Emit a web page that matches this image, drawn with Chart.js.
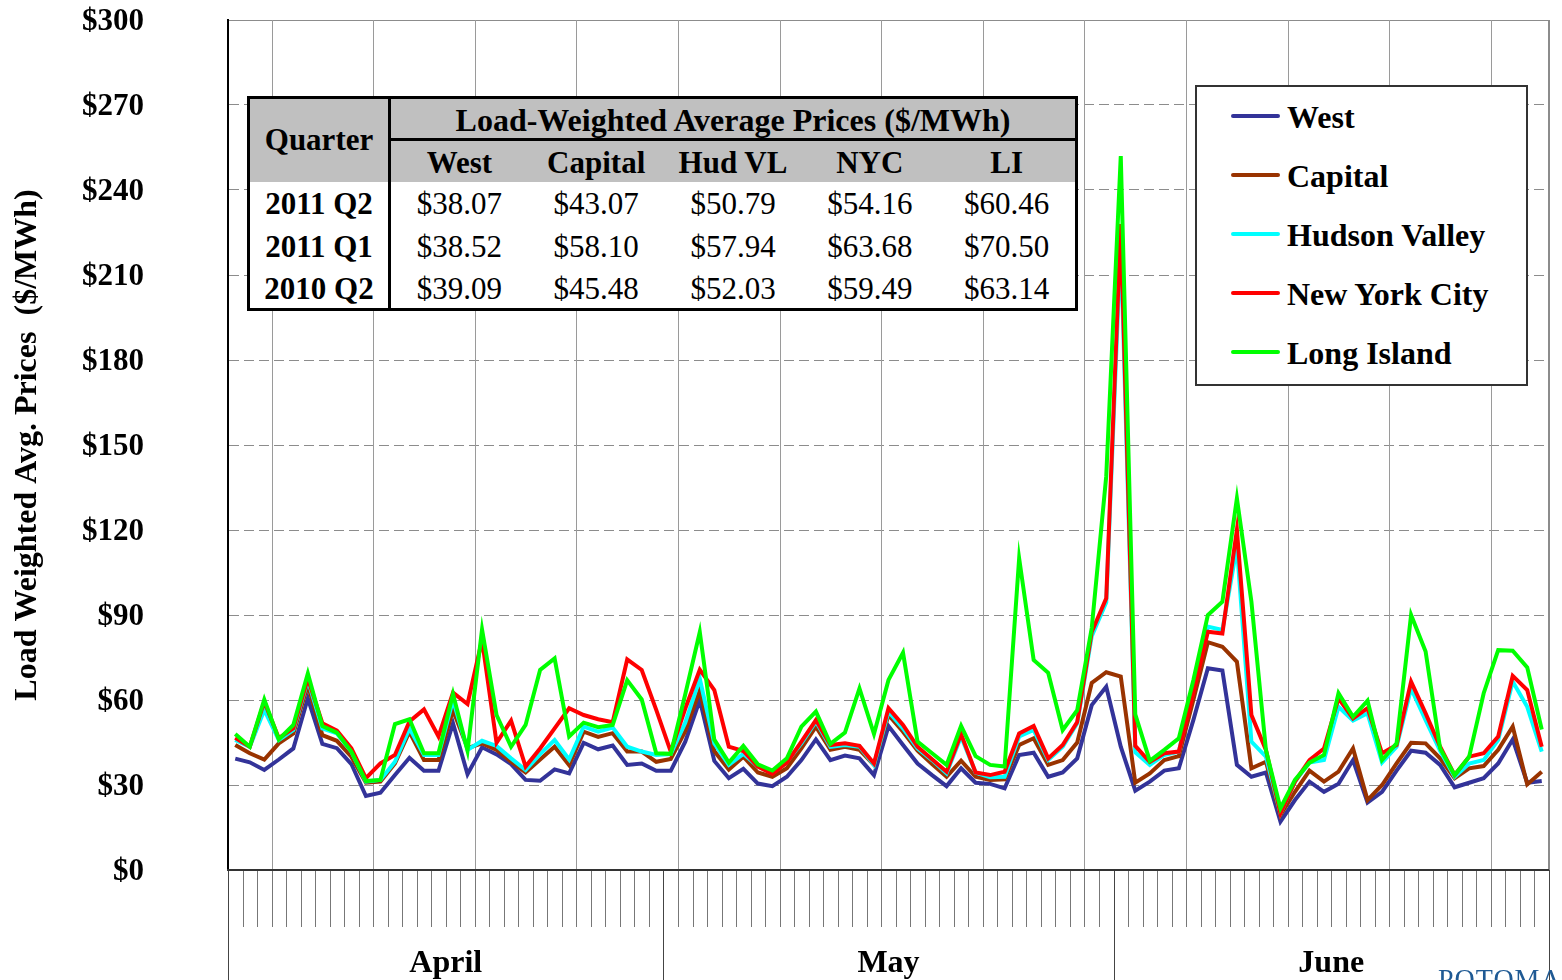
<!DOCTYPE html>
<html>
<head>
<meta charset="utf-8">
<title>Load Weighted Average Prices</title>
<script src="https://cdn.jsdelivr.net/npm/chart.js@4.4.1/dist/chart.umd.min.js"></script>
<style>
  html, body { margin: 0; padding: 0; background: #fff; overflow: hidden; }
  #wrap {
    position: relative; width: 1562px; height: 980px; overflow: hidden;
    font-family: "Liberation Serif", "Times New Roman", serif; color: #000;
  }
  #chart { position: absolute; left: 0; top: 0; }
  .box { position: absolute; box-sizing: border-box; background: #fff; }
  .fill { position: absolute; }
  .txt { position: absolute; white-space: nowrap; height: 40px; line-height: 40px; font-size: 31px; }
  .mid { transform: translateX(-50%); }
  .bold { font-weight: bold; }
  #logo {
    position: absolute; left: 1438px; top: 965px; font-size: 28px; line-height: 28px;
    color: #1f5a94; letter-spacing: 1px; white-space: nowrap;
  }
</style>
</head>
<body>
<div id="wrap">
  <canvas id="chart" width="1562" height="980"></canvas>
  <div id="summary"></div>
  <div id="legend"></div>
  <div id="logo">POTOMAC</div>
</div>
<script>
// Daily load-weighted average prices by zone, $/MWh (April 1 - June 30)
const westPrices = [
  39.3, 38, 35.3, 39, 42.9, 60.6, 44.5, 43, 37.4, 26.1,
  27.3, 33.5, 39.6, 35, 35, 51.8, 33.8, 43.3, 40.8, 37.4,
  31.8, 31.5, 35.5, 34.1, 44.9, 42.6, 43.9, 37.1, 37.6, 35,
  35, 45.3, 60, 38.5, 32.4, 35.7, 30.5, 29.6, 32.9, 38.8,
  46.1, 38.8, 40.4, 39.4, 33.5, 50.8, 44.1, 37.6, 33.5, 29.6,
  35.9, 30.8, 30.4, 28.8, 40.6, 41.4, 32.9, 34.4, 39.4, 58.2,
  64.7, 43.5, 28, 31.2, 35.1, 35.9, 52.9, 71.2, 70.4, 37.1,
  32.9, 34.4, 17.1, 24.7, 31.2, 27.6, 30.4, 38.8, 23.8, 27.6,
  35.1, 42.1, 41.4, 37.1, 29.2, 30.8, 32.4, 37.6, 46.1, 30.8,
  31.4
];
const capitalPrices = [
  44.1, 41.2, 39, 44.7, 48.2, 65.3, 47.6, 45.6, 40, 30.8,
  31.2, 37.6, 48.8, 38.8, 38.8, 56.5, 43, 44.7, 42.4, 38.2,
  34.4, 39, 43.5, 37, 48.8, 47, 48.3, 41.8, 41.8, 38.2,
  39.2, 49, 63.4, 42, 35.4, 40, 34.4, 32.9, 35.9, 42.9,
  50.6, 42.4, 43.5, 42.4, 37.1, 54.7, 48.8, 42.1, 37.4, 32.9,
  38.6, 32.9, 31.8, 32, 44.1, 46.5, 37.1, 38.8, 45, 66,
  69.8, 68.3, 30.8, 34.1, 38.8, 40.2, 60, 80.4, 78.8, 73.5,
  35.9, 38.2, 19.4, 27.6, 35.1, 31.2, 34.7, 42.9, 24.7, 30,
  37.6, 44.9, 44.7, 39.4, 32.4, 35.9, 36.7, 42.4, 50.6, 30.2,
  34.7
];
const hudsonValleyPrices = [
  45.9, 43.5, 56.5, 45.9, 49.4, 67, 50, 48.2, 41.8, 31.2,
  31.8, 38.2, 50, 40.6, 40.6, 60, 42.4, 45.6, 43.8, 39.4,
  35.3, 40.9, 45.9, 39, 50.6, 48.8, 50.3, 43.5, 41.8, 40.6,
  40.9, 52, 67.5, 44.7, 37.1, 41, 36.5, 34.4, 38.2, 44.7,
  52.4, 43.5, 44.1, 43.5, 37.1, 55.9, 50, 42.9, 38.8, 34.1,
  47.1, 34.4, 32.7, 32.9, 47.1, 49.4, 38.8, 43.5, 51.8, 82.5,
  94.5, 222, 41.5, 37.1, 40.6, 41.8, 64.7, 85.9, 84.7, 114,
  45.3, 40, 20, 31.2, 37.9, 38.8, 57.6, 52.7, 55.3, 37.9,
  43.5, 64.1, 52.9, 42.1, 32.9, 37.6, 38.8, 45.9, 66.5, 57.6,
  41.8
];
const nycPrices = [
  46.7, 43.5, 59.4, 46.5, 50, 67.6, 51.8, 49.2, 42.9, 32.4,
  37.6, 40.6, 52.4, 56.7, 47.1, 62.6, 58.6, 81.2, 44.9, 52.7,
  36.5, 42.9, 50, 57.1, 54.7, 53.2, 52.2, 74.3, 70.6, 56.5,
  41.8, 57, 70.7, 63.5, 43.5, 42, 36.5, 33.9, 37.9, 45.3,
  52.9, 44.1, 44.7, 43.8, 37.6, 57.1, 51.2, 43.5, 39.1, 34.7,
  48, 34.4, 33.5, 34.7, 48.2, 50.8, 39.4, 44.1, 52.2, 84,
  95.9, 228, 43.8, 38.1, 41.2, 41.8, 62.4, 84.1, 83.5, 120,
  54.7, 42.4, 20, 31.2, 38.8, 42.9, 60.6, 53.5, 57.1, 41.2,
  44.1, 66.5, 55.3, 43.5, 33.5, 40, 41.2, 47.1, 68.5, 63.5,
  43.5
];
const longIslandPrices = [
  48, 43.5, 60.2, 46.1, 51.2, 69.4, 50.8, 48.5, 41.8, 31.4,
  31.8, 51.5, 53.2, 41.2, 41.2, 62.1, 42.1, 84.9, 54.7, 43.5,
  51.2, 70.6, 74.7, 47.1, 52, 50.4, 51.2, 67, 60.2, 41.2,
  41, 62, 84, 46, 37.9, 43.8, 37.3, 35.1, 39.4, 50.6,
  55.9, 44.5, 48.5, 64.1, 48, 67.1, 76.7, 45.3, 41.2, 37.1,
  50.9, 40.2, 37.1, 36.5, 110, 74.1, 69.6, 49.4, 56.4, 85.4,
  139, 252, 54.9, 38.5, 42.4, 46.5, 67, 90, 94.7, 131.2,
  94.7, 42.4, 21.8, 31.8, 37.9, 40.6, 62.4, 54.1, 59.8, 38.8,
  44.7, 90, 77.1, 42.9, 33.5, 40, 62.4, 77.6, 77.4, 71.5,
  49.6
];

const regionNames = ["West", "Capital", "Hudson Valley", "New York City", "Long Island"];
const regionColors = ["#333399", "#993300", "#00ffff", "#ff0000", "#00ff00"];
const regionSeries = [westPrices, capitalPrices, hudsonValleyPrices, nycPrices, longIslandPrices];

// Quarterly summary shown in the inset table
const quarterLabels = ["2011 Q2", "2011 Q1", "2010 Q2"];
const summaryColumns = ["West", "Capital", "Hud VL", "NYC", "LI"];
const summaryWest = [38.07, 38.52, 39.09];
const summaryCapital = [43.07, 58.10, 45.48];
const summaryHudVL = [50.79, 57.94, 52.03];
const summaryNYC = [54.16, 63.68, 59.49];
const summaryLI = [60.46, 70.50, 63.14];
const summarySeries = [summaryWest, summaryCapital, summaryHudVL, summaryNYC, summaryLI];

const yMax = 300;
const yStep = 30;

// One category per calendar day of the quarter
const days = [];
for (let i = 0; i < westPrices.length; i++) days.push(new Date(2011, 3, 1 + i));
const dayLabels = days.map((d) => `${d.getMonth() + 1}/${d.getDate()}`);
const monthNames = ["January", "February", "March", "April", "May", "June",
  "July", "August", "September", "October", "November", "December"];

const serif = "'Liberation Serif', 'Times New Roman', serif";

/**
 * Draws the weekly vertical grid, the day ticks under the axis,
 * month separators and month names.
 */
const dayAxisPlugin = {
  id: "dayAxis",
  beforeDatasetsDraw(chart) {
    const { ctx, chartArea: area, scales: { x } } = chart;
    ctx.save();
    ctx.lineWidth = 1;
    ctx.strokeStyle = "#9a9a9a";
    days.forEach((d, i) => {
      if (d.getDay() !== 1) return; // line before each Monday
      const px = Math.round(x.getPixelForValue(i - 0.5)) + 0.5;
      ctx.beginPath();
      ctx.moveTo(px, area.top);
      ctx.lineTo(px, area.bottom);
      ctx.stroke();
    });
    // right edge of the plot frame
    ctx.strokeStyle = "#8c8c8c";
    ctx.lineWidth = 2;
    ctx.beginPath();
    ctx.moveTo(area.right, area.top);
    ctx.lineTo(area.right, area.bottom);
    ctx.stroke();
    ctx.restore();
  },
  afterDatasetsDraw(chart) {
    const { ctx, chartArea: area, scales: { x } } = chart;
    const bottom = chart.height;
    const edge = (i) => x.getPixelForValue(i - 0.5);
    ctx.save();

    // day ticks
    ctx.lineWidth = 1;
    ctx.strokeStyle = "#777";
    for (let i = 0; i <= days.length; i++) {
      const px = Math.round(edge(i)) + 0.5;
      ctx.beginPath();
      ctx.moveTo(px, area.bottom);
      ctx.lineTo(px, area.bottom + 57);
      ctx.stroke();
    }

    // month boundaries
    const starts = [];
    days.forEach((d, i) => { if (d.getDate() === 1) starts.push(i); });
    const bounds = starts.concat([days.length]);
    ctx.strokeStyle = "#444";
    bounds.forEach((i) => {
      const px = Math.round(edge(i)) + 0.5;
      ctx.beginPath();
      ctx.moveTo(px, area.bottom);
      ctx.lineTo(px, bottom);
      ctx.stroke();
    });

    // month names centred in their span
    ctx.fillStyle = "#000";
    ctx.font = `bold 32px ${serif}`;
    ctx.textAlign = "center";
    ctx.textBaseline = "alphabetic";
    starts.forEach((s, k) => {
      const e = bounds[k + 1];
      const cx = (edge(s) + edge(e)) / 2;
      ctx.fillText(monthNames[days[s].getMonth()], cx, 972);
    });

    // category axis line
    ctx.strokeStyle = "#333";
    ctx.lineWidth = 2;
    ctx.beginPath();
    ctx.moveTo(area.left - 1, area.bottom);
    ctx.lineTo(area.right, area.bottom);
    ctx.stroke();
    ctx.restore();
  },
};

const chart = new Chart(document.getElementById("chart"), {
  type: "line",
  data: {
    labels: dayLabels,
    datasets: regionSeries.map((series, k) => ({
      label: regionNames[k],
      data: series,
      borderColor: regionColors[k],
      backgroundColor: regionColors[k],
      fill: false,
      // later zones are drawn on top
      order: regionSeries.length - k,
    })),
  },
  options: {
    responsive: false,
    animation: false,
    layout: { padding: { left: 6, top: 20, right: 13, bottom: 110 } },
    plugins: {
      legend: { display: false },
      tooltip: { enabled: false },
    },
    elements: {
      point: { radius: 0 },
      line: { tension: 0, borderWidth: 4, borderJoinStyle: "miter" },
    },
    scales: {
      x: {
        type: "category",
        offset: true,
        display: false,
      },
      y: {
        min: 0,
        max: yMax,
        ticks: {
          stepSize: yStep,
          padding: 84,
          labelOffset: 2,
          color: "#000",
          font: { family: serif, size: 31, weight: "bold" },
          callback: (v) => "$" + v,
        },
        grid: {
          color: (ctx) => (ctx.tick && ctx.tick.value === 0 ? "rgba(0,0,0,0)" : "#8c8c8c"),
          lineWidth: 1,
          drawTicks: false,
        },
        border: {
          display: true,
          color: "#000",
          width: 2,
          dash: (ctx) => (ctx.tick && ctx.tick.value > 0 && ctx.tick.value < yMax ? [10, 5] : []),
        },
        title: {
          display: true,
          text: "Load Weighted Avg. Prices  ($/MWh)",
          color: "#000",
          font: { family: serif, size: 32, weight: "bold" },
          padding: { top: 3, bottom: 3 },
        },
        // fixed axis width; the wide label gap must not push the plot down
        afterFit: (scale) => {
          scale.width = 222;
          scale.paddingTop = 0;
          scale.paddingBottom = 0;
        },
      },
    },
  },
  plugins: [dayAxisPlugin],
});

/**
 * Add an absolutely placed text element
 * cy is the vertical centre of the capital letters
 */
function addText(parent, text, x, cy, opts = {}) {
  const el = document.createElement("div");
  el.className = "txt" + (opts.center ? " mid" : "") + (opts.bold ? " bold" : "");
  if (opts.size) el.style.fontSize = opts.size + "px";
  el.style.left = x + "px";
  el.style.top = cy - 20 + "px";
  el.textContent = text;
  parent.appendChild(el);
  return el;
}

function addRect(parent, cls, left, top, width, height, style) {
  const el = document.createElement("div");
  el.className = cls;
  el.style.left = left + "px";
  el.style.top = top + "px";
  el.style.width = width + "px";
  el.style.height = height + "px";
  Object.assign(el.style, style || {});
  parent.appendChild(el);
  return el;
}

// Inset summary table
function buildSummary() {
  const root = document.getElementById("summary");
  addRect(root, "box", 247, 96, 831, 215, { border: "3px solid #000" });
  addRect(root, "fill", 250, 99, 825, 83, { background: "#c0c0c0" });
  addRect(root, "fill", 388, 99, 3, 209, { background: "#000" });
  addRect(root, "fill", 391, 138, 684, 3, { background: "#000" });

  addText(root, "Quarter", 319, 140, { center: true, bold: true });
  addText(root, "Load-Weighted Average Prices ($/MWh)", 733, 120, { center: true, bold: true, size: 32 });

  const colWidth = (1075 - 391) / summaryColumns.length;
  const rowCentres = [204, 246.5, 289];
  summaryColumns.forEach((name, c) => {
    const cx = 391 + colWidth * (c + 0.5);
    addText(root, name, cx, 162.5, { center: true, bold: true });
    summarySeries[c].forEach((v, r) => {
      addText(root, "$" + v.toFixed(2), cx, rowCentres[r], { center: true });
    });
  });
  quarterLabels.forEach((q, r) => {
    addText(root, q, 319, rowCentres[r], { center: true, bold: true });
  });
}

// Legend box
function buildLegend() {
  const root = document.getElementById("legend");
  addRect(root, "box", 1195, 85, 333, 301, { border: "2px solid #333" });
  regionNames.forEach((name, k) => {
    const cy = 115.7 + k * 59;
    addRect(root, "fill", 1231, cy - 2, 49, 4, { background: regionColors[k], borderRadius: "2px" });
    addText(root, name, 1287, cy + 1.5, { bold: true, size: 32 });
  });
}

buildSummary();
buildLegend();
</script>
</body>
</html>
